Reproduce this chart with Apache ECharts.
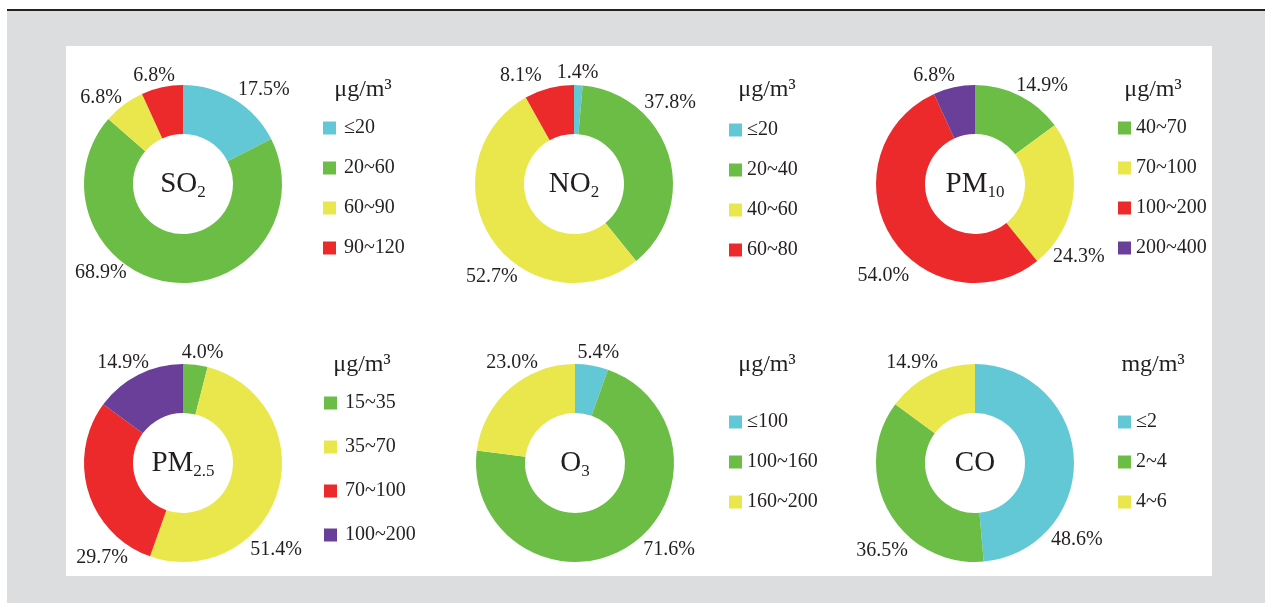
<!DOCTYPE html>
<html>
<head>
<meta charset="utf-8">
<script src="https://cdn.jsdelivr.net/npm/echarts@6/dist/echarts.min.js"></script>
<style>
  html, body { margin: 0; padding: 0; width: 1265px; height: 603px; overflow: hidden; background: #ffffff; }
  .frame { position: absolute; left: 7px; top: 9px; width: 1258px; height: 592px; background: #dcdddf; border-top: 2px solid #222; }
  .panel { position: absolute; left: 66px; top: 46px; width: 1146px; height: 530px; background: #ffffff; }
  #chart { position: absolute; left: 0; top: 0; width: 1265px; height: 603px; }
</style>
</head>
<body>
<div class="frame"></div>
<div class="panel"></div>
<div id="chart"></div>
<script>
// ---------- data ----------
const so2Categories  = ['≤20', '20~60', '60~90', '90~120'];
const so2Values      = [17.5, 68.9, 6.8, 6.8];
const no2Categories  = ['≤20', '20~40', '40~60', '60~80'];
const no2Values      = [1.4, 37.8, 52.7, 8.1];
const pm10Categories = ['40~70', '70~100', '100~200', '200~400'];
const pm10Values     = [14.9, 24.3, 54.0, 6.8];
const pm25Categories = ['15~35', '35~70', '70~100', '100~200'];
const pm25Values     = [4.0, 51.4, 29.7, 14.9];
const o3Categories   = ['≤100', '100~160', '160~200'];
const o3Values       = [5.4, 71.6, 23.0];
const coCategories   = ['≤2', '2~4', '4~6'];
const coValues       = [48.6, 36.5, 14.9];

// ---------- styles ----------
const C = { cyan: '#63c8d6', green: '#6cbd45', yellow: '#e9e74c', red: '#ec2a2b', purple: '#6a3f99' };
const FONT = "'Liberation Serif', 'Times New Roman', serif";
const TXT = '#231f20';

const charts = [
  { cats: so2Categories,  vals: so2Values,  colors: [C.cyan, C.green, C.yellow, C.red],
    center: [183, 184], name: '{a|SO}{b|2}', unit: 'μg/m³', unitPos: [363, 90],
    legend: { left: 323, top: 118, gap: 20, pad: 3 },
    nudge: [[-2, -1], [-43, -19], [4, 1], [15, -2]] },
  { cats: no2Categories,  vals: no2Values,  colors: [C.cyan, C.green, C.yellow, C.red],
    center: [574, 184], name: '{a|NO}{b|2}', unit: 'μg/m³', unitPos: [767, 90],
    legend: { left: 729, top: 120, gap: 20, pad: 0 },
    nudge: [[-22, -2], [-34, -50], [34, 32], [-5, -3]] },
  { cats: pm10Categories, vals: pm10Values, colors: [C.green, C.yellow, C.red, C.purple],
    center: [975, 184], name: '{a|PM}{b|10}', unit: 'μg/m³', unitPos: [1153, 90],
    legend: { left: 1118, top: 118, gap: 20, pad: 0 },
    nudge: [[-8, -1], [-30, 59], [27, 35], [3, -2]] },
  { cats: pm25Categories, vals: pm25Values, colors: [C.green, C.yellow, C.red, C.purple],
    center: [183, 463], name: '{a|PM}{b|2.5}', unit: 'μg/m³', unitPos: [362, 365],
    legend: { left: 324, top: 393, gap: 24, pad: 3 },
    nudge: [[-15, -2], [-37, 55], [49, 63], [15, -3]] },
  { cats: o3Categories,   vals: o3Values,   colors: [C.cyan, C.green, C.yellow],
    center: [575, 463], name: '{a|O}{b|3}', unit: 'μg/m³', unitPos: [767, 365],
    legend: { left: 729, top: 412, gap: 20, pad: 0 },
    nudge: [[-16, -3], [11, -6], [35, -18]] },
  { cats: coCategories,   vals: coValues,   colors: [C.cyan, C.green, C.yellow],
    center: [975, 463], name: '{a|CO}', unit: 'mg/m³', unitPos: [1153, 365],
    legend: { left: 1118, top: 412, gap: 20, pad: 0 },
    nudge: [[-33, 82], [28, 34], [12, -3]] }
];

const series = [], legends = [], graphics = [];
charts.forEach((ch, ci) => {
  series.push({
    type: 'pie',
    id: 'pie' + ci,
    center: ch.center,
    radius: [50, 99],
    startAngle: 90,
    clockwise: true,
    avoidLabelOverlap: false,
    padAngle: 0,
    silent: true,
    animation: false,
    itemStyle: { borderWidth: 0, borderRadius: 0 },
    label: {
      show: true, position: 'outside', distanceToLabelLine: 0,
      formatter: p => p.value.toFixed(1) + '%',
      fontFamily: FONT, fontSize: 20, color: TXT
    },
    labelLine: { show: false, length: 10, length2: 0 },
    labelLayout: p => ({ dx: ch.nudge[p.dataIndex][0], dy: ch.nudge[p.dataIndex][1] }),
    emphasis: { disabled: true },
    data: ch.cats.map((c, i) => ({ name: c, value: ch.vals[i], itemStyle: { color: ch.colors[i] } }))
  });
  legends.push({
    orient: 'vertical',
    left: ch.legend.left, top: ch.legend.top,
    padding: 0,
    itemGap: ch.legend.gap,
    itemWidth: 13, itemHeight: 13,
    icon: 'rect',
    selectedMode: false,
    textStyle: { fontFamily: FONT, fontSize: 20, color: TXT, padding: [0, 0, 0, ch.legend.pad] },
    data: ch.cats.map((c, i) => ({ name: c, icon: 'rect', itemStyle: { color: ch.colors[i] } }))
  });
  graphics.push({
    type: 'text', x: ch.center[0], y: ch.center[1], silent: true,
    style: {
      text: ch.name, align: 'center', verticalAlign: 'middle',
      textAlign: 'center', textVerticalAlign: 'middle',
      fill: TXT,
      rich: {
        a: { fontFamily: FONT, fontSize: 29, color: TXT, lineHeight: 34, verticalAlign: 'middle' },
        b: { fontFamily: FONT, fontSize: 17, color: TXT, lineHeight: 34, verticalAlign: 'bottom' }
      }
    }
  });
  graphics.push({
    type: 'text', x: ch.unitPos[0], y: ch.unitPos[1], silent: true,
    style: {
      text: ch.unit, align: 'center', verticalAlign: 'middle',
      textAlign: 'center', textVerticalAlign: 'middle',
      font: '24px ' + FONT, fill: TXT
    }
  });
});

const chart = echarts.init(document.getElementById('chart'), null, { renderer: 'canvas' });
chart.setOption({
  backgroundColor: 'transparent',
  animation: false,
  tooltip: { show: false },
  legend: legends,
  series: series,
  graphic: graphics
});
</script>
</body>
</html>
